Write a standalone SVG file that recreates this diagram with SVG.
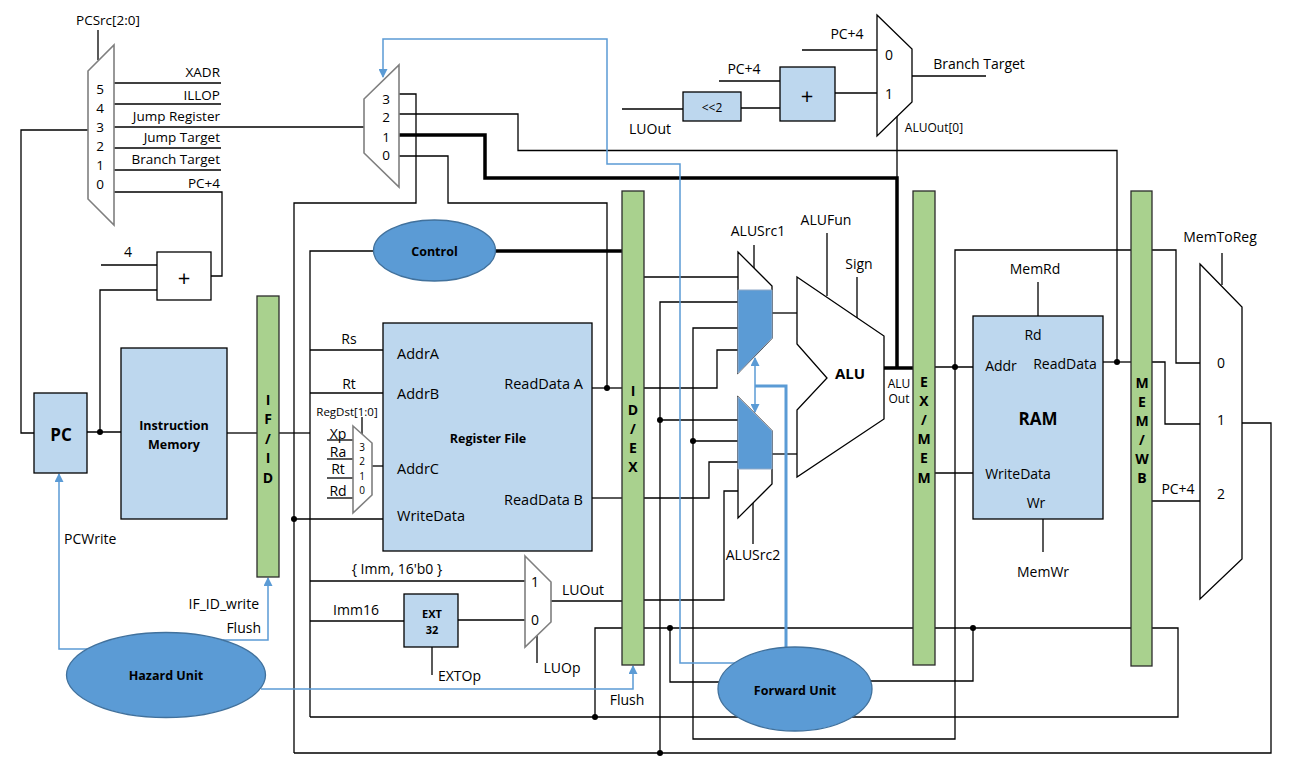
<svg xmlns="http://www.w3.org/2000/svg" width="1296" height="772" viewBox="0 0 1296 772">
<defs>
<style>
.ln{fill:none;stroke:#000;stroke-width:1.3}
.th{fill:none;stroke:#000;stroke-width:3.5}
.bl{fill:none;stroke:#5b9bd5;stroke-width:1.5}
.blt{fill:none;stroke:#5b9bd5;stroke-width:3}
.box{fill:#bdd7ee;stroke:#000;stroke-width:1.3}
.bar{fill:#a9d18e;stroke:#2b2b2b;stroke-width:1.3}
.mux{fill:#fff;stroke:#000;stroke-width:1.3}
.gmux{fill:#fff;stroke:#7f7f7f;stroke-width:1.6}
.ell{fill:#5b9bd5;stroke:#41719c;stroke-width:1.3}
.bmux{fill:#5b9bd5;stroke:#8fa9c8;stroke-width:1}
.dot{fill:#000}
text{font-family:"Open Sans","Noto Sans",sans-serif;font-size:14px;fill:#000;dominant-baseline:central}
.m{text-anchor:middle}
.e{text-anchor:end}
.b{font-weight:bold}
.s{font-size:13.5px}
.sm{font-size:12px}
.xs{font-size:10px}
.nm{font-weight:bold;font-size:12.5px;text-anchor:middle}
.pl{font-weight:bold;font-size:14px;text-anchor:middle}
</style>
<marker id="arr" viewBox="0 0 10 10" refX="9" refY="5" markerWidth="10" markerHeight="9" markerUnits="userSpaceOnUse" orient="auto-start-reverse">
<path d="M0,0 L10,5 L0,10 z" fill="#5b9bd5"/>
</marker>
</defs>
<rect width="1296" height="772" fill="#fff"/>

<g id="connectors">
<!-- IF stage -->
<polyline class="ln" points="88,130 21,130 21,433 34,433"/>
<polyline class="ln" points="114,83 221,83"/>
<polyline class="ln" points="114,104 221,104"/>
<polyline class="ln" points="114,127 364,127"/>
<polyline class="ln" points="114,148 221,148"/>
<polyline class="ln" points="114,170 221,170"/>
<polyline class="ln" points="114,192 222,192 222,276 211,276"/>
<polyline class="ln" points="98,30 98,60"/>
<polyline class="ln" points="101,265 157,265"/>
<polyline class="ln" points="87,432 121,432"/>
<polyline class="ln" points="100,432 100,290 157,290"/>
<circle class="dot" cx="100" cy="432" r="3"/>
<polyline class="ln" points="227,433 257,433"/>
<polyline class="ln" points="279,433 310,433"/>
<!-- jump register mux -->
<polyline class="ln" points="399,94 416,94 416,203 294,203 294,753"/>
<polyline class="ln" points="399,156 448,156 448,203 607,203 607,388"/>
<polyline class="ln" points="399,114 518,114 518,150.5 1117,150.5 1117,362"/>
<polyline class="th" points="399,135 485,135 485,178 897,178 897,368"/>
<polyline class="th" points="884,368 913,368"/>
<polyline class="ln" points="897,116 897,178"/>
<!-- branch -->
<polyline class="ln" points="622,109 683,109"/>
<polyline class="ln" points="741,108 780,108"/>
<polyline class="ln" points="719,81 780,81"/>
<polyline class="ln" points="835,93 877,93"/>
<polyline class="ln" points="802,50 877,50"/>
<polyline class="ln" points="912,76 986,76"/>
<!-- ID stage -->
<polyline class="ln" points="373,251 310,251 310,717"/>
<polyline class="ln" points="310,350 383,350"/>
<polyline class="ln" points="310,393 383,393"/>
<polyline class="th" points="496,251 622,251"/>
<polyline class="ln" points="294,519 383,519"/>
<circle class="dot" cx="294" cy="519" r="3"/>
<polyline class="ln" points="327,440 353,440"/>
<polyline class="ln" points="327,459 353,459"/>
<polyline class="ln" points="327,478 353,478"/>
<polyline class="ln" points="327,498 353,498"/>
<polyline class="ln" points="372,466 383,466"/>
<polyline class="ln" points="362,417 362,435"/>
<polyline class="ln" points="592,388 622,388"/>
<circle class="dot" cx="607" cy="388" r="3"/>
<polyline class="ln" points="592,498 622,498"/>
<polyline class="ln" points="310,581 525,581"/>
<polyline class="ln" points="310,621 404,621"/>
<polyline class="ln" points="458,620 525,620"/>
<polyline class="ln" points="432,647 432,675"/>
<polyline class="ln" points="537,635 537,663"/>
<polyline class="ln" points="551,601 622,601"/>
<polyline class="ln" points="622,628 595,628 595,717"/>
<circle class="dot" cx="595" cy="717" r="3"/>
<polyline class="ln" points="310,717 1178,717 1178,628 1152,628"/>
<!-- EX stage -->
<polyline class="ln" points="644,628 1131,628"/>
<circle class="dot" cx="670" cy="628" r="3"/>
<circle class="dot" cx="973" cy="628" r="3"/>
<polyline class="ln" points="670,628 670,682 719,682"/>
<polyline class="ln" points="973,628 973,681 870,681"/>
<polyline class="ln" points="644,277 738,277"/>
<polyline class="ln" points="738,302 660,302 660,753"/>
<polyline class="ln" points="660,420 738,420"/>
<circle class="dot" cx="660" cy="420" r="3"/>
<circle class="dot" cx="660" cy="753" r="3"/>
<polyline class="ln" points="738,328 693,328 693,739 955,739 955,250 1176,250 1176,363 1200,363"/>
<polyline class="ln" points="693,441 738,441"/>
<circle class="dot" cx="693" cy="441" r="3"/>
<polyline class="ln" points="644,388 717,388 717,350 738,350"/>
<polyline class="ln" points="644,498 709,498 709,462 738,462"/>
<polyline class="ln" points="644,600 724,600 724,491 738,491"/>
<polyline class="ln" points="754,245 754,268"/>
<polyline class="ln" points="753,503 753,544"/>
<polyline class="ln" points="772,313 797,313"/>
<polyline class="ln" points="772,454 797,454"/>
<polyline class="ln" points="827,233 827,296"/>
<polyline class="ln" points="857,277 857,318"/>
<!-- MEM stage -->
<polyline class="ln" points="935,367 973,367"/>
<circle class="dot" cx="955" cy="367" r="3"/>
<polyline class="ln" points="935,473 973,473"/>
<polyline class="ln" points="1038,282 1038,316"/>
<polyline class="ln" points="1043,519 1043,552"/>
<polyline class="ln" points="1103,362 1131,362"/>
<circle class="dot" cx="1117" cy="362" r="3"/>
<polyline class="ln" points="1152,362 1165,362 1165,424 1200,424"/>
<polyline class="ln" points="1152,501 1200,501"/>
<polyline class="ln" points="1222,253 1222,285"/>
<polyline class="ln" points="1242,423 1271,423 1271,753 294,753"/>
<!-- blue control -->
<polyline class="bl" points="735,663 680,663 680,164 607,164 607,39 383,39 383,77" marker-end="url(#arr)"/>
<polyline class="bl" points="87,649 59,649 59,474" marker-end="url(#arr)"/>
<polyline class="bl" points="223,640 268,640 268,578" marker-end="url(#arr)"/>
<polyline class="bl" points="261,689 633,689 633,666" marker-end="url(#arr)"/>
<polyline class="bl" points="755,412 755,358" marker-start="url(#arr)" marker-end="url(#arr)"/>
<polyline class="blt" points="755,386 786,386 786,647"/>
</g>

<g id="pcsrc-mux">
<polygon class="gmux" points="88,71 114,45 114,225 88,199"/>
<text class="m s" x="108" y="20">PCSrc[2:0]</text>
<text class="m s" x="100" y="89">5</text>
<text class="m s" x="100" y="108">4</text>
<text class="m s" x="100" y="127">3</text>
<text class="m s" x="100" y="146">2</text>
<text class="m s" x="100" y="165">1</text>
<text class="m s" x="100" y="184">0</text>
<text class="e s" x="220" y="72">XADR</text>
<text class="e s" x="220" y="95">ILLOP</text>
<text class="e s" x="220" y="116">Jump Register</text>
<text class="e s" x="220" y="137">Jump Target</text>
<text class="e s" x="220" y="159">Branch Target</text>
<text class="e s" x="220" y="183">PC+4</text>
</g>

<g id="pc-adder">
<rect class="mux" x="157" y="252" width="54" height="48"/>
<text class="m" x="184" y="277" style="font-size:22px">+</text>
<text class="m" x="128" y="251">4</text>
</g>

<g id="pc">
<rect class="box" x="34" y="393" width="53" height="80"/>
<text class="m b" x="61" y="434" style="font-size:17px">PC</text>
</g>

<g id="instruction-memory">
<rect class="box" x="121" y="348" width="106" height="171"/>
<text class="nm" x="174" y="425">Instruction</text>
<text class="nm" x="174" y="444">Memory</text>
</g>

<g id="if-id">
<rect class="bar" x="257" y="296" width="22" height="281"/>
<text class="pl" x="268" y="399">I</text>
<text class="pl" x="268" y="418">F</text>
<text class="pl" x="268" y="438">/</text>
<text class="pl" x="268" y="457">I</text>
<text class="pl" x="268" y="477">D</text>
</g>

<g id="jr-mux">
<polygon class="gmux" points="364,99 399,65 399,187 364,153"/>
<text class="m s" x="386" y="99">3</text>
<text class="m s" x="386" y="117">2</text>
<text class="m s" x="386" y="137">1</text>
<text class="m s" x="386" y="155">0</text>
</g>

<g id="branch">
<rect class="box" x="683" y="92" width="58" height="29"/>
<text class="m sm" x="712" y="107">&lt;&lt;2</text>
<rect class="box" x="780" y="67" width="55" height="54"/>
<text class="m" x="807" y="95" style="font-size:22px">+</text>
<polygon class="mux" points="877,15 912,49 912,102 877,136"/>
<text class="m" x="889" y="54">0</text>
<text class="m" x="889" y="93">1</text>
<text class="m" x="847" y="33">PC+4</text>
<text class="m" x="744" y="68">PC+4</text>
<text class="m" x="650" y="128">LUOut</text>
<text class="m" x="979" y="63">Branch Target</text>
<text class="m sm" x="934" y="127">ALUOut[0]</text>
</g>

<g id="control">
<ellipse class="ell" cx="434.5" cy="250.5" rx="61" ry="30.5"/>
<text class="nm" x="434.5" y="251">Control</text>
</g>

<g id="register-file">
<rect class="box" x="383" y="323" width="209" height="228"/>
<text class="m" x="349" y="338">Rs</text>
<text class="m" x="349" y="383">Rt</text>
<text style="font-size:14.5px" x="397" y="353">AddrA</text>
<text style="font-size:14.5px" x="397" y="393">AddrB</text>
<text style="font-size:14.5px" x="397" y="468">AddrC</text>
<text style="font-size:14.5px" x="397" y="515">WriteData</text>
<text class="e" style="font-size:14.5px" x="583" y="383">ReadData A</text>
<text class="e" style="font-size:14.5px" x="583" y="499">ReadData B</text>
<text class="nm" x="488" y="438">Register File</text>
</g>

<g id="regdst-mux">
<polygon class="gmux" points="353,426 372,443 372,495 353,513"/>
<text class="m" x="347" y="411" style="font-size:11.5px">RegDst[1:0]</text>
<text class="m" x="338" y="433">Xp</text>
<text class="m" x="338" y="451">Ra</text>
<text class="m" x="338" y="468">Rt</text>
<text class="m" x="338" y="490">Rd</text>
<text class="m xs" x="362" y="447">3</text>
<text class="m xs" x="362" y="461">2</text>
<text class="m xs" x="362" y="476">1</text>
<text class="m xs" x="362" y="490">0</text>
</g>

<g id="ext">
<rect class="box" x="404" y="594" width="54" height="53"/>
<text class="m b" x="432" y="613" style="font-size:11px">EXT</text>
<text class="m b" x="432" y="629" style="font-size:11px">32</text>
<text class="m" x="356" y="609">Imm16</text>
<text x="438" y="675">EXTOp</text>
<text class="m" x="397" y="568">{ Imm, 16'b0 }</text>
</g>

<g id="luop-mux">
<polygon class="gmux" points="525,556 551,582 551,622 525,647"/>
<text class="m" x="535" y="581">1</text>
<text class="m" x="535" y="619">0</text>
<text class="m" x="583" y="589">LUOut</text>
<text class="m" x="562" y="667">LUOp</text>
</g>

<g id="id-ex">
<rect class="bar" x="622" y="191" width="22" height="474"/>
<text class="pl" x="633" y="390">I</text>
<text class="pl" x="633" y="409">D</text>
<text class="pl" x="633" y="428">/</text>
<text class="pl" x="633" y="447">E</text>
<text class="pl" x="633" y="466">X</text>
<text class="m" x="627" y="699">Flush</text>
</g>

<g id="alusrc1-mux">
<polygon class="mux" points="738,252 772,286 772,338 738,373"/>
<polygon class="bmux" points="738,290 772,290 772,338 738,373"/>
<text class="m" x="758" y="230">ALUSrc1</text>
</g>

<g id="alusrc2-mux">
<polygon class="mux" points="738,397 772,431 772,484 738,518"/>
<polygon class="bmux" points="738,397 772,431 772,469 738,469"/>
<text class="m" x="753" y="554">ALUSrc2</text>
</g>

<g id="alu">
<polygon class="mux" points="797,277 884,336 884,419 797,477 797,410 827,378 797,344"/>
<text class="m b" x="850" y="373" style="font-size:15px">ALU</text>
<text class="m" x="826" y="219">ALUFun</text>
<text class="m" x="859" y="263">Sign</text>
<text class="m sm" x="899" y="383">ALU</text>
<text class="m sm" x="899" y="398">Out</text>
</g>

<g id="ex-mem">
<rect class="bar" x="913" y="191" width="22" height="474"/>
<text class="pl" x="924" y="381">E</text>
<text class="pl" x="924" y="400">X</text>
<text class="pl" x="924" y="419">/</text>
<text class="pl" x="924" y="438">M</text>
<text class="pl" x="924" y="457">E</text>
<text class="pl" x="924" y="477">M</text>
</g>

<g id="ram">
<rect class="box" x="973" y="316" width="130" height="203"/>
<text class="m" x="1035" y="268">MemRd</text>
<text class="m" x="1033" y="334">Rd</text>
<text class="m" x="1001" y="365">Addr</text>
<text class="m" x="1065" y="363">ReadData</text>
<text class="m b" x="1038" y="418" style="font-size:17px">RAM</text>
<text class="m" x="1018" y="473">WriteData</text>
<text class="m" x="1036" y="502">Wr</text>
<text class="m" x="1043" y="571">MemWr</text>
</g>

<g id="mem-wb">
<rect class="bar" x="1131" y="191" width="21" height="475"/>
<text class="pl" x="1142" y="382">M</text>
<text class="pl" x="1142" y="401">E</text>
<text class="pl" x="1142" y="420">M</text>
<text class="pl" x="1142" y="439">/</text>
<text class="pl" x="1142" y="458">W</text>
<text class="pl" x="1142" y="477">B</text>
</g>

<g id="memtoreg-mux">
<polygon class="mux" points="1200,264 1242,307 1242,559 1200,599"/>
<text class="m" x="1220" y="236">MemToReg</text>
<text class="m" x="1221" y="362">0</text>
<text class="m" x="1221" y="419">1</text>
<text class="m" x="1221" y="493">2</text>
<text class="m" x="1178" y="488">PC+4</text>
</g>

<g id="hazard-unit">
<ellipse class="ell" cx="166" cy="675" rx="99.5" ry="42.5"/>
<text class="nm" x="166" y="675">Hazard Unit</text>
<text x="64" y="538">PCWrite</text>
<text class="e" x="259" y="603">IF_ID_write</text>
<text class="e" x="261" y="627">Flush</text>
</g>

<g id="forward-unit">
<ellipse class="ell" cx="795" cy="689" rx="77" ry="42"/>
<text class="nm" x="795" y="690">Forward Unit</text>
</g>
</svg>
